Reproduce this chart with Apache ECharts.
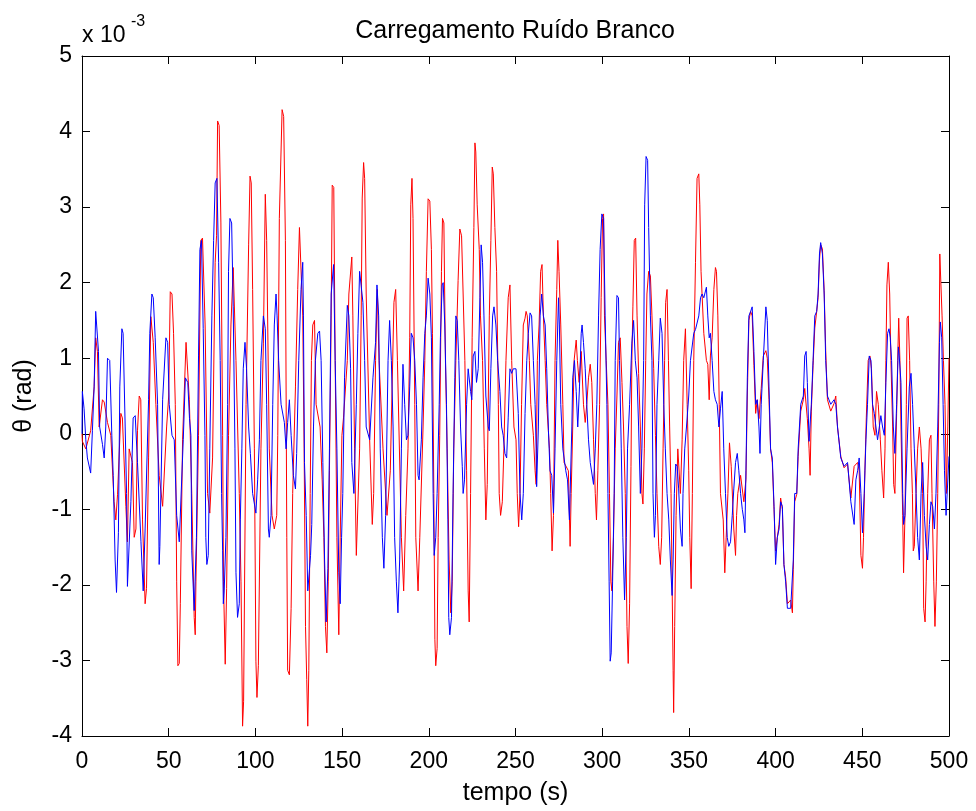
<!DOCTYPE html>
<html><head><meta charset="utf-8">
<script src="https://cdn.jsdelivr.net/npm/echarts@6/dist/echarts.min.js"></script>
<style>html,body{margin:0;padding:0;background:#fff}#c{width:976px;height:811px}</style>
</head><body><div id="c"></div>
<script>
const chartTitle = 'Carregamento Ruído Branco';
const xName = 'tempo (s)';
const yName = 'θ (rad)';
const scaleBase = 'x 10';
const scaleExp = '-3';
const xMin = 0, xMax = 500, xStep = 50;
const yMin = -4, yMax = 5, yStep = 1;

// [tempo (s), theta (x 10^-3 rad)]
const redPoints = [
[0,0],[0.2,-0.1],[2.2,-0.2],[5.0,0.04],[7.0,0.62],[7.9,1.27],[8.9,1.09],[9.9,0.09],[11.8,0.45],[12.8,0.42],
[14.7,0.15],[16.6,-0.02],[18.5,-0.9],[19.5,-1.14],[20.5,-0.8],[22.4,0.27],[23.3,0.21],[25.3,-0.96],[26.2,-1.43],[27.2,-0.2],
[29.1,-0.38],[30.1,-1.37],[31.1,-1.26],[32.0,0.04],[33.0,0.5],[33.9,0.45],[34.9,-1.14],[36.4,-2.25],[37.2,-2.05],[38.4,-0.32],
[39.7,1.55],[41.1,1.21],[42.6,0.39],[44.5,-0.55],[46.5,-0.96],[48.8,0.09],[50.0,0.5],[50.9,1.88],[51.9,1.85],[52.8,1.33],
[53.8,0.39],[54.6,-1.96],[55.3,-3.07],[56.1,-3.04],[56.7,-2.25],[58.0,-0.08],[60.0,1.21],[61.9,0.45],[63.3,-0.79],[64.7,-2.43],
[65.3,-2.66],[65.7,-1.96],[67.2,-0.02],[68.5,2.56],[69.5,2.59],[71.0,1.44],[72.4,-0.79],[73.7,-1.05],[75.3,-0.32],[76.8,2.27],
[77.6,2.62],[78.2,4.14],[79.1,4.08],[80.1,2.79],[81.1,-0.02],[81.6,-1.96],[82.6,-3.05],[83.4,-2.05],[84.5,-0.02],[85.9,1.44],
[87.2,2.2],[88.8,0.97],[90.7,-0.79],[91.7,-1.96],[92.6,-3.87],[93.2,-3.54],[94.6,0.39],[96.1,2.5],[96.9,3.41],[97.6,3.32],
[98.4,1.91],[99.4,-0.2],[100.3,-3.01],[100.9,-3.49],[101.7,-3.07],[103.2,-0.2],[104.6,1.2],[105.7,3.17],[106.5,2.56],[108.0,-0.2],
[109.6,-1.08],[110.9,-1.26],[112.3,-1.08],[112.9,-0.02],[113.8,2.85],[115.4,4.29],[116.3,4.2],[117.3,2.56],[118.1,-1.37],[118.6,-3.13],
[119.6,-3.19],[120.6,-2.31],[121.5,-0.79],[123.1,0.62],[124.4,1.91],[125.4,2.73],[126.4,2.73],[127.3,1.56],[128.1,-0.2],[128.9,-2.55],
[129.6,-3.25],[130.2,-3.87],[130.8,-3.13],[131.6,-0.79],[132.3,0.97],[133.1,1.44],[134.1,1.5],[135.0,0.39],[137.3,0.09],[138.5,-0.61],
[139.5,-1.37],[140.4,-2.55],[141.2,-2.9],[142.0,-1.96],[142.7,-0.49],[143.7,1.56],[144.3,3.29],[145.2,3.26],[146.0,0.97],[147.0,-1.37],
[148.1,-2.66],[148.9,-1.37],[149.9,-0.02],[150.8,0.21],[153.0,0.97],[153.9,1.85],[155.6,2.34],[156.2,1.56],[157.2,-0.2],[158.2,-1.61],
[159.1,-1.61],[160.1,-0.2],[161.0,1.56],[161.6,3.12],[162.4,3.59],[163.0,3.38],[163.9,1.85],[165.9,-0.08],[167.4,-1.2],[168.2,-0.79],
[169.3,0.97],[170.3,1.91],[171.3,0.97],[173.6,-0.2],[175.9,-1.08],[177.8,-0.49],[179.9,1.74],[180.9,1.91],[181.9,0.97],[184.2,-1.37],
[185.5,-2.08],[186.7,-1.08],[188.0,-0.2],[189.0,1.27],[189.6,3.03],[190.3,3.38],[190.9,2.85],[191.9,0.39],[192.5,-1.37],[193.8,-2.08],
[194.8,-1.37],[196.7,0.09],[197.7,0.97],[198.6,2.15],[199.6,3.11],[200.6,3.08],[201.5,2.44],[202.1,1.33],[202.9,-0.79],[203.5,-2.72],
[204.0,-3.07],[204.8,-2.84],[205.4,-1.37],[206.3,-0.02],[207.3,2.15],[207.9,2.85],[208.7,2.79],[209.6,0.97],[210.6,-0.2],[211.7,-1.67],
[212.7,-2.37],[213.5,-1.96],[214.4,-0.2],[215.6,0.97],[216.9,2.03],[217.9,2.71],[218.9,2.62],[219.8,1.85],[220.8,0.97],[221.8,-0.49],
[222.7,-2.08],[223.3,-2.49],[224.1,-0.79],[225.0,1.27],[226.0,2.73],[226.6,3.85],[227.1,3.73],[227.9,3.03],[229.1,2.44],[229.8,1.56],
[231.0,0.97],[232.0,-0.2],[232.9,-1.14],[233.7,-0.67],[234.9,1.56],[235.8,2.56],[236.6,3.53],[237.2,3.44],[238.1,2.73],[239.1,2.15],
[240.1,0.39],[240.6,-0.79],[241.4,-1.08],[242.4,-0.9],[243.3,-0.2],[244.5,0.97],[245.8,1.8],[246.8,1.97],[247.8,0.97],[249.1,0.09],
[250.3,-0.08],[251.0,-0.79],[251.8,-1.23],[252.6,-0.79],[253.5,0.39],[254.5,1.44],[255.5,1.53],[256.1,1.62],[256.8,1.56],[258.0,0.97],
[258.8,0.39],[259.3,0.39],[260.3,-0.02],[261.3,-0.49],[261.9,-0.67],[262.6,0.97],[263.6,1.44],[264.5,2.15],[265.3,2.24],[266.1,1.56],
[267.1,0.97],[268.0,0.39],[269.6,-0.2],[270.3,-0.79],[271.1,-1.55],[271.9,-1.08],[272.8,0.97],[273.8,1.91],[274.4,2.56],[275.1,2.15],
[276.1,1.44],[277.3,0.39],[278.0,-0.38],[280.5,-0.49],[281.5,-1.49],[282.1,-0.79],[283.0,0.09],[283.8,0.97],[285.0,1.24],[285.7,0.97],
[286.7,0.68],[287.9,1.09],[289.2,0.39],[290.2,0.15],[291.1,0.39],[292.1,0.74],[293.1,0.92],[294.0,0.68],[295.0,-0.08],[296.0,-0.79],
[296.7,-1.14],[297.5,-0.49],[298.5,0.39],[299.4,1.8],[300.2,2.85],[300.8,2.91],[301.3,1.56],[302.3,0.97],[303.3,0.39],[304.2,-0.79],
[305.0,-1.96],[305.6,-2.08],[306.5,-1.37],[307.5,-0.2],[308.5,0.5],[309.4,1.21],[310.4,1.27],[311.4,0.68],[312.3,0.09],[313.3,-0.79],
[314.3,-2.55],[315.0,-3.04],[315.8,-2.25],[316.6,-0.43],[317.1,0.97],[317.7,1.68],[318.5,2.56],[319.3,2.59],[320.1,1.56],[321.0,0.8],
[322.0,0.09],[322.9,-0.79],[323.5,-0.93],[324.3,-0.2],[325.1,0.97],[325.8,1.85],[326.8,2.15],[327.8,2.09],[328.7,1.56],[329.7,0.86],
[330.7,-0.02],[331.6,-0.79],[332.6,-1.49],[333.5,-1.73],[334.3,-1.37],[335.1,-0.2],[336.0,0.97],[336.6,1.74],[337.4,1.91],[338.2,0.97],
[338.9,0.09],[339.7,-0.79],[340.3,-1.96],[340.9,-3.13],[341.2,-3.69],[341.8,-2.55],[342.6,-1.08],[343.6,-0.2],[345.1,-0.79],[346.1,-0.08],
[347.0,0.97],[348.0,1.39],[349.0,0.39],[349.9,-0.49],[350.5,-1.37],[351.3,-2.05],[352.0,-0.79],[352.8,0.97],[353.8,2.27],[354.7,3.38],
[355.7,3.44],[356.3,3.03],[357.0,2.15],[358.6,1.33],[360.1,0.97],[360.9,0.92],[361.7,0.45],[362.4,1.03],[363.4,1.27],[364.4,1.91],
[365.3,2.2],[365.9,2.15],[366.7,1.56],[367.5,0.39],[368.2,-0.79],[369.8,-1.14],[370.7,-1.84],[371.5,-1.37],[372.5,-0.79],[373.4,-0.12],
[374.4,-0.43],[375.9,-1.26],[376.9,-1.61],[377.5,-1.08],[378.2,-0.79],[379.8,-0.55],[381.7,-0.9],[382.9,-0.6],[383.7,0.5],[384.6,1.5],
[385.6,1.62],[386.5,1.56],[387.5,0.9],[388.5,0.27],[389.4,0.45],[390.4,0.2],[391.7,0.6],[392.9,1.03],[394.4,1.1],[395.2,1.0],
[396.2,0.45],[397.1,-0.2],[398.1,-0.38],[399.1,-1.0],[400.0,-1.55],[401.0,-1.37],[402.0,-1.2],[402.9,-0.85],[403.9,-1.0],[404.8,-1.73],
[405.8,-1.9],[406.8,-2.25],[408.7,-2.2],[409.7,-2.37],[410.2,-1.8],[411.0,-0.9],[412.2,-0.8],[413.0,-0.3],[414.5,0.3],[416.0,0.45],
[416.8,0.6],[417.6,0.6],[418.3,0.2],[419.3,-0.2],[419.9,-0.55],[420.6,0.3],[421.6,0.9],[422.6,1.4],[423.7,1.62],[424.5,1.8],
[425.3,2.3],[426.0,2.5],[427.0,2.45],[428.0,1.9],[428.9,1.1],[429.9,0.45],[431.8,0.3],[433.7,0.4],[434.7,0.5],[435.7,0.09],
[437.6,-0.3],[439.5,-0.45],[441.5,-0.4],[443.4,-0.85],[445.3,-0.43],[447.3,-0.38],[448.2,-0.49],[449.2,-1.61],[450.1,-1.78],[450.7,-1.37],
[451.5,-0.49],[452.3,0.21],[453.4,0.97],[454.4,1.03],[455.3,0.86],[456.3,0.09],[457.3,-0.02],[458.2,0.56],[459.2,0.39],[460.4,-0.08],
[461.3,-0.49],[462.3,-0.85],[463.1,-0.2],[463.6,0.97],[464.2,1.97],[465.0,2.27],[465.8,1.85],[466.5,0.97],[467.5,0.09],[468.1,-0.67],
[468.8,-0.79],[469.8,0.27],[470.4,0.97],[471.0,1.53],[471.7,0.97],[472.3,0.09],[473.3,-1.08],[473.8,-1.84],[474.6,-1.08],[475.4,0.39],
[475.8,1.53],[476.5,1.56],[477.3,0.97],[478.1,-0.2],[478.9,-0.79],[479.4,-1.55],[480.0,-1.49],[481.0,-0.79],[481.9,-0.2],[482.9,0.09],
[483.9,-0.2],[484.8,-0.79],[485.4,-2.31],[486.2,-2.49],[486.8,-1.96],[487.7,-0.79],[488.7,-0.08],[489.6,-0.02],[490.2,-0.79],[491.2,-1.96],
[491.9,-2.55],[492.7,-1.96],[493.5,-0.79],[494.1,0.39],[494.7,2.38],[495.4,2.38],[496.0,1.56],[496.8,0.97],[497.7,0.39],[498.5,-0.79],
[499.3,0.09],[500,1.0]
];

const bluePoints = [
[0,0],[0.2,0.56],[1.2,0.33],[2.2,-0.08],[3.1,-0.32],[5.0,-0.52],[6.0,0.04],[7.0,0.62],[7.9,1.62],[8.9,1.62],
[9.5,1.09],[10.2,0.09],[11.8,-0.14],[12.8,-0.32],[13.7,0.09],[14.7,1.0],[16.0,0.97],[17.2,-0.02],[18.0,-0.55],[19.1,-1.67],
[19.9,-2.1],[21.0,-1.31],[21.8,0.62],[23.0,1.39],[23.7,1.33],[24.9,0.09],[25.7,-0.79],[26.2,-2.02],[27.2,-2.02],[28.2,-0.9],
[29.5,0.21],[30.7,0.24],[32.0,-0.38],[34.0,-1.43],[35.3,-2.08],[36.4,-1.26],[38.4,0.45],[39.1,1.33],[40.3,1.85],[41.1,1.8],
[42.2,1.27],[43.6,0.39],[44.5,-1.73],[44.9,-1.49],[46.5,0.45],[48.4,1.27],[49.4,1.21],[50.3,0.39],[51.9,-0.02],[53.2,-0.08],
[54.6,-1.08],[56.1,-1.43],[57.1,-1.43],[58.4,-0.08],[59.6,0.74],[61.0,0.68],[62.0,0.2],[62.8,-0.02],[63.3,-1.55],[64.7,-2.34],
[65.3,-2.34],[66.0,-1.37],[67.2,1.03],[68.0,2.44],[68.9,2.56],[69.9,1.39],[70.9,-0.02],[71.4,-1.37],[72.0,-1.73],[72.8,-1.61],
[73.7,-0.2],[74.9,1.56],[75.9,2.56],[76.8,3.32],[77.8,3.38],[78.8,2.27],[79.7,0.97],[80.5,-0.79],[81.1,-1.55],[81.5,-2.25],
[82.0,-2.08],[83.0,-1.37],[84.0,0.39],[84.5,2.15],[85.3,2.85],[86.3,2.79],[87.2,1.68],[88.2,-0.2],[88.8,-1.84],[89.7,-2.43],
[90.7,-2.25],[91.3,-1.14],[92.2,-0.2],[93.0,0.86],[94.0,1.21],[94.9,0.86],[96.1,0.09],[97.1,-0.26],[98.4,-0.79],[100.3,-1.05],
[101.3,-0.61],[102.3,-0.08],[103.2,0.97],[104.6,1.56],[105.7,1.39],[106.5,0.39],[107.5,-1.26],[108.0,-1.37],[109.0,-1.08],[110.0,0.39],
[110.9,1.44],[111.9,1.85],[112.5,1.56],[113.4,0.97],[114.8,0.39],[116.7,0.15],[117.7,-0.2],[118.6,0.15],[119.6,0.45],[120.6,-0.02],
[121.9,-0.55],[123.1,-0.73],[123.8,-0.26],[125.0,0.97],[126.3,1.91],[127.3,2.27],[127.7,1.56],[128.3,-0.38],[129.3,-1.08],[130.2,-2.08],
[131.2,-2.08],[131.8,-1.61],[132.5,-1.2],[133.5,0.09],[134.6,0.97],[136.0,1.33],[137.0,1.36],[137.9,0.97],[138.9,-0.38],[139.9,-1.67],
[140.8,-2.49],[141.8,-1.78],[142.7,-0.2],[143.7,1.85],[145.1,2.24],[146.0,0.97],[147.0,-0.2],[148.1,-1.84],[148.9,-2.25],[149.7,-1.37],
[150.4,-0.79],[151.4,0.74],[153.0,1.7],[153.9,1.56],[154.9,0.86],[155.6,-0.38],[156.8,-0.79],[158.2,0.39],[159.1,1.33],[160.1,2.15],
[161.0,2.15],[162.0,1.74],[163.0,0.97],[163.9,0.09],[165.9,-0.08],[167.8,0.74],[169.3,1.21],[170.1,1.97],[171.1,1.56],[172.0,-0.2],
[173.2,-1.37],[174.1,-1.78],[175.1,-1.08],[176.5,0.97],[177.4,1.5],[178.4,0.97],[179.4,0.09],[180.3,-1.37],[181.3,-1.96],[182.2,-2.37],
[183.2,-1.67],[184.2,-0.2],[185.1,0.92],[186.1,0.39],[187.1,-0.08],[188.0,-0.02],[189.0,0.62],[189.9,1.33],[190.9,1.27],[191.9,0.97],
[192.9,0.39],[193.8,-0.55],[194.4,-0.61],[195.7,-0.08],[196.7,0.74],[197.7,1.33],[198.6,1.56],[199.6,2.06],[200.6,1.85],[201.5,1.27],
[202.5,-0.79],[203.1,-1.61],[204.0,-1.37],[204.8,-0.79],[206.0,0.39],[206.7,1.27],[207.7,1.97],[208.3,2.0],[209.2,1.44],[210.2,0.39],
[211.0,-1.14],[211.5,-2.43],[212.1,-2.66],[213.1,-2.43],[214.0,-0.79],[215.0,0.74],[215.6,1.56],[216.4,1.5],[217.3,0.97],[218.3,0.09],
[219.3,-0.43],[219.8,-0.79],[220.6,-0.61],[221.8,0.39],[222.7,0.86],[224.1,0.56],[224.8,0.45],[225.6,1.03],[226.6,1.09],[227.5,0.68],
[228.5,0.86],[229.5,1.8],[230.2,2.5],[231.0,2.27],[231.8,1.56],[232.9,0.5],[234.3,0.09],[234.9,0.04],[235.8,0.86],[236.8,1.56],
[237.6,1.68],[238.7,1.44],[239.7,0.97],[241.0,0.56],[242.0,0.09],[242.9,-0.02],[243.9,-0.26],[244.9,-0.32],[245.8,0.21],[246.8,0.86],
[247.8,0.8],[248.7,0.86],[250.3,0.86],[251.6,0.27],[252.6,-0.79],[253.6,-1.14],[254.5,-0.79],[255.5,0.27],[256.5,0.97],[257.4,1.33],
[258.4,1.6],[259.3,1.56],[260.3,0.97],[261.3,0.39],[261.9,-0.2],[262.2,-0.7],[263.2,0.09],[264.2,1.56],[265.1,1.85],[266.1,1.56],
[267.1,1.44],[268.0,0.86],[269.0,0.04],[269.9,-0.49],[270.9,-0.55],[271.9,-1.05],[272.8,-0.2],[273.8,0.97],[274.8,1.8],[275.3,1.44],
[276.1,0.39],[277.3,-0.2],[279.0,-0.49],[280.0,-0.61],[281.1,-1.14],[281.5,-0.79],[282.5,0.09],[283.0,0.74],[284.0,0.97],[285.0,0.56],
[285.9,0.09],[286.9,0.62],[287.9,1.33],[288.4,1.44],[289.2,1.21],[290.2,0.86],[291.1,0.39],[292.1,-0.08],[293.1,-0.38],[295.0,-0.67],
[296.0,-0.2],[296.9,0.39],[297.9,1.56],[298.8,2.44],[299.8,2.91],[300.8,2.85],[301.7,1.56],[302.7,0.39],[303.3,-0.79],[304.0,-1.96],
[304.6,-3.01],[305.2,-2.9],[306.0,-1.96],[306.9,-0.79],[307.5,0.97],[308.5,1.83],[309.4,1.8],[310.0,0.97],[311.0,-0.2],[311.9,-1.37],
[312.9,-2.2],[313.9,-1.37],[314.6,-0.2],[315.8,0.39],[317.1,1.2],[318.1,1.5],[319.1,0.97],[320.1,0.74],[321.0,0.09],[322.0,-0.79],
[322.9,-0.2],[323.9,0.97],[324.5,3.03],[325.3,3.67],[326.2,3.62],[326.8,2.73],[327.8,1.56],[328.7,0.97],[329.3,-0.79],[330.1,-1.37],
[330.7,-1.08],[331.6,0.39],[332.6,0.97],[333.5,1.53],[334.5,1.33],[335.5,0.39],[336.4,-0.2],[337.4,-0.79],[338.4,-1.14],[339.3,-1.67],
[340.3,-2.14],[340.9,-1.67],[341.6,-0.79],[342.4,-0.4],[343.2,-0.43],[344.1,-0.73],[345.1,-1.26],[346.1,-1.49],[346.6,-0.79],[347.6,-0.2],
[348.6,0.09],[349.9,0.5],[350.9,0.97],[352.8,1.33],[353.8,1.38],[355.7,1.56],[356.7,1.8],[357.6,1.85],[358.6,1.8],[360.1,1.94],
[360.9,1.56],[361.7,1.27],[362.4,1.33],[363.4,0.97],[364.4,0.56],[365.3,0.45],[366.3,0.39],[367.3,0.09],[368.2,0.33],[369.2,0.56],
[370.1,-0.2],[371.1,-0.79],[372.1,-1.37],[373.0,-1.49],[374.0,-1.43],[375.0,-1.08],[375.9,-0.73],[376.9,-0.38],[377.9,-0.26],[378.8,-0.49],
[379.8,-0.79],[380.8,-1.0],[381.7,-1.14],[382.3,-1.31],[382.9,-0.49],[383.7,0.74],[384.6,1.56],[385.6,1.62],[386.5,1.68],[387.5,1.09],
[388.5,0.39],[389.4,0.45],[390.4,0.09],[391.0,-0.26],[391.7,0.39],[392.9,0.97],[394.4,1.68],[395.2,1.5],[396.2,0.62],[397.1,-0.2],
[398.1,-0.32],[399.1,-0.96],[400.0,-1.73],[401.0,-1.37],[402.0,-1.26],[402.9,-0.9],[403.9,-0.96],[404.8,-1.73],[405.8,-1.96],[406.8,-2.31],
[408.7,-2.31],[409.7,-2.33],[410.2,-1.67],[411.0,-0.79],[412.2,-0.79],[413.0,-0.2],[414.5,0.39],[416.0,0.5],[416.8,1.03],[417.6,1.09],
[418.3,0.68],[419.3,-0.1],[420.6,0.39],[421.6,0.97],[422.6,1.56],[423.7,1.62],[424.5,1.85],[425.3,2.38],[426.0,2.53],[427.0,2.38],
[428.0,1.85],[428.9,0.97],[429.9,0.5],[431.8,0.39],[433.7,0.45],[434.7,0.39],[435.7,0.09],[437.6,-0.32],[439.5,-0.43],[441.5,-0.38],
[443.4,-0.9],[444.4,-0.9],[445.3,-1.2],[446.3,-0.61],[447.3,-0.49],[448.2,-0.32],[449.2,-0.79],[450.1,-1.31],[451.1,-0.79],[452.1,-0.08],
[453.0,0.39],[454.0,1.03],[455.0,0.97],[455.9,0.39],[456.9,0.27],[458.8,-0.08],[459.8,-0.08],[460.7,0.24],[461.7,0.09],[462.7,-0.02],
[463.6,0.68],[464.6,1.33],[465.4,1.39],[466.1,1.27],[466.9,0.97],[467.9,0.09],[468.8,-0.26],[469.8,0.39],[470.8,1.15],[471.3,1.03],
[472.3,0.68],[473.3,-0.79],[473.8,-1.2],[474.6,-1.08],[475.8,-0.2],[477.1,0.62],[478.1,0.8],[479.0,0.39],[480.0,-0.2],[481.0,-0.79],
[481.9,-1.37],[482.9,-1.67],[483.9,-0.79],[484.8,-0.38],[485.8,-1.08],[486.8,-1.49],[487.7,-1.67],[488.7,-1.2],[489.6,-0.9],[490.6,-0.96],
[491.6,-1.26],[492.5,-0.79],[493.5,0.09],[494.5,1.21],[495.0,1.48],[495.8,1.27],[496.6,0.39],[497.4,-0.49],[498.3,-1.08],[499.3,-1.08],
[500,-0.3]
];

const FONT = '"Liberation Sans", Arial, sans-serif';
const chart = echarts.init(document.getElementById('c'), null, {renderer: 'canvas'});

const lineBlack = {show: true, onZero: false, lineStyle: {color: '#000', width: 1}};
const tickIn = {show: true, inside: true, length: 8, lineStyle: {color: '#000', width: 1}};

function xAx(pos, labels) {
  return {
    type: 'value', position: pos, min: xMin, max: xMax, interval: xStep,
    axisLine: lineBlack, axisTick: tickIn, splitLine: {show: false},
    axisLabel: {show: labels, color: '#000', fontSize: 23, fontFamily: FONT, margin: 14},
    name: labels ? xName : '', nameLocation: 'middle', nameGap: 45,
    nameTextStyle: {color: '#000', fontSize: 25, fontFamily: FONT}
  };
}
function yAx(pos, labels) {
  return {
    type: 'value', position: pos, min: yMin, max: yMax, interval: yStep,
    axisLine: lineBlack, axisTick: tickIn, splitLine: {show: false},
    axisLabel: {show: labels, color: '#000', fontSize: 23, fontFamily: FONT, margin: 10},
    name: labels ? yName : '', nameLocation: 'middle', nameGap: 45, nameRotate: 90,
    nameTextStyle: {color: '#000', fontSize: 25, fontFamily: FONT}
  };
}

chart.setOption({
  animation: false,
  backgroundColor: '#fff',
  grid: {left: 82, right: 27, top: 56, bottom: 71, containLabel: false},
  xAxis: [xAx('bottom', true), xAx('top', false)],
  yAxis: [yAx('left', true), yAx('right', false)],
  graphic: [
    {type: 'text', x: 515, y: 31, style: {text: chartTitle, font: '25px ' + FONT, fill: '#000', align: 'center', verticalAlign: 'middle', textAlign: 'center', textVerticalAlign: 'middle'}},
    {type: 'text', x: 82, y: 36, style: {text: scaleBase, font: '23px ' + FONT, fill: '#000', align: 'left', verticalAlign: 'middle', textAlign: 'left', textVerticalAlign: 'middle'}},
    {type: 'text', x: 131, y: 22, style: {text: scaleExp, font: '16px ' + FONT, fill: '#000', align: 'left', verticalAlign: 'middle', textAlign: 'left', textVerticalAlign: 'middle'}}
  ],
  series: [
    {type: 'line', name: 'red', data: redPoints, xAxisIndex: 0, yAxisIndex: 0, showSymbol: false, symbol: 'none',
     lineStyle: {color: '#ff0000', width: 1}, itemStyle: {color: '#ff0000'}, z: 2},
    {type: 'line', name: 'blue', data: bluePoints, xAxisIndex: 0, yAxisIndex: 0, showSymbol: false, symbol: 'none',
     lineStyle: {color: '#0000ff', width: 1}, itemStyle: {color: '#0000ff'}, z: 3}
  ]
});
</script></body></html>
